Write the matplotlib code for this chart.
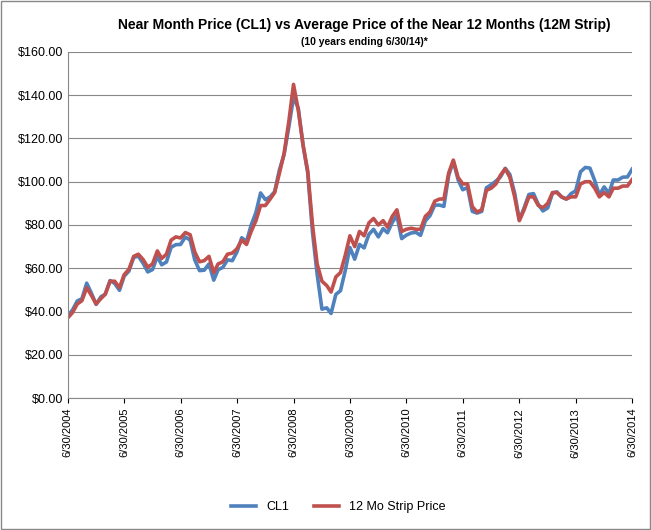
import matplotlib
matplotlib.use("Agg")
import matplotlib.pyplot as plt
import matplotlib.dates as mdates
import pandas as pd

# monthly values, June 2004 .. June 2014
cl1 = [38,
       40.7, 44.9, 45.9, 53.1, 48.5, 43.3,
       46.8, 48.0, 54.3, 53.0, 49.8, 56.3, 58.7, 65.0, 65.6, 62.3, 58.3, 59.4,
       65.5, 61.6, 62.9, 69.7, 70.9, 71.0, 74.4, 73.1, 63.9, 58.9, 59.1, 62.0,
       54.5, 59.3, 60.4, 63.9, 63.5, 67.5, 74.1, 72.4, 79.9, 85.8, 94.8, 91.7,
       93.0, 95.4, 105.5, 112.6, 125.4, 139.0, 134.0, 116.7, 104.1, 76.6, 57.3, 41.1,
       41.7, 39.1, 47.9, 49.6, 59.0, 69.6, 64.2, 71.0, 69.4, 75.7, 78.0, 74.5,
       78.3, 76.4, 81.2, 84.3, 73.7, 75.3, 76.3, 76.6, 75.2, 81.9, 84.3, 89.2,
       89.2, 88.6, 102.9, 109.5, 100.9, 96.3, 97.3, 86.3, 85.5, 86.3, 97.2, 98.6,
       100.3, 102.2, 106.2, 103.3, 94.7, 82.3, 87.9, 94.1, 94.5, 89.5, 86.5, 87.9,
       94.8, 95.3, 92.9, 92.0, 94.5, 95.8, 104.6, 106.6, 106.3, 100.5, 93.9, 97.6,
       94.6, 100.8, 100.8, 102.1, 102.2, 105.8]
strip = [37,
         39.5, 43.5, 45, 51, 47.5, 43.5,
         46, 48, 54, 54, 51, 57, 59.5, 65.5, 66.5, 64, 60.5, 62,
         68, 64.5, 66.5, 73, 74.5, 74, 76.5, 75.5, 67.5, 63, 63.5, 65.5,
         58, 62, 63, 66.5, 67, 69, 73, 71, 77, 82, 89, 89,
         92, 95, 104, 113, 128, 145, 133, 117, 105, 80, 62, 54,
         52, 49, 56, 58, 66, 75, 70, 77, 75, 81, 83, 80,
         82, 79, 84, 87, 77, 78, 78.5, 78, 78, 84, 86, 91,
         92, 92, 104, 110, 102, 99, 99, 88.5, 86, 87, 96, 97,
         99, 103, 106, 102, 93, 82, 87, 93, 93, 89, 88, 90,
         95, 95, 93, 92, 93, 93, 99, 100, 100, 97, 93, 95,
         93, 97, 97, 98, 98, 101]
dates = pd.date_range("2004-06-30", periods=len(cl1), freq="ME")
tick_dates = pd.to_datetime([f"{y}-06-30" for y in range(2004, 2015)])

fig = plt.figure(figsize=(6.51, 5.30), dpi=100)
plt.rcParams["font.family"] = ["Liberation Sans", "DejaVu Sans"]
ax = fig.add_axes([0.104, 0.249, 0.867, 0.653])
ax.plot(dates, cl1, color="#4F81BD", lw=2.6, label="CL1")
ax.plot(dates, strip, color="#C0504D", lw=2.6, label="12 Mo Strip Price")

ax.set_ylim(0, 160)
ax.set_yticks(range(0, 161, 20))
ax.set_yticklabels([f"${v:.2f}" for v in range(0, 161, 20)], fontsize=9)
ax.set_xlim(tick_dates[0], tick_dates[-1])
ax.set_xticks(tick_dates)
ax.xaxis.set_major_formatter(mdates.DateFormatter("%-m/%d/%Y"))
plt.setp(ax.get_xticklabels(), rotation=90, fontsize=8)
ax.grid(axis="y", color="#888888", lw=0.8)
ax.set_axisbelow(True)
for s in ["top", "right"]:
    ax.spines[s].set_visible(False)
ax.spines["left"].set_color("#888888")
ax.spines["bottom"].set_color("#888888")
ax.tick_params(axis="y", length=0)

fig.text(0.56, 0.945, "Near Month Price (CL1) vs Average Price of the Near 12 Months (12M Strip)",
         ha="center", fontsize=10, fontweight="bold")
fig.text(0.56, 0.915, "(10 years ending 6/30/14)*", ha="center", fontsize=7.5, fontweight="bold")
fig.legend(loc="lower center", bbox_to_anchor=(0.52, 0.01), ncol=2, frameon=False, fontsize=9)
fig.patches.append(plt.Rectangle((0.002, 0.002), 0.996, 0.996, transform=fig.transFigure,
                                 fill=False, edgecolor="#888888", lw=1))
fig.savefig("out.png", dpi=100)
